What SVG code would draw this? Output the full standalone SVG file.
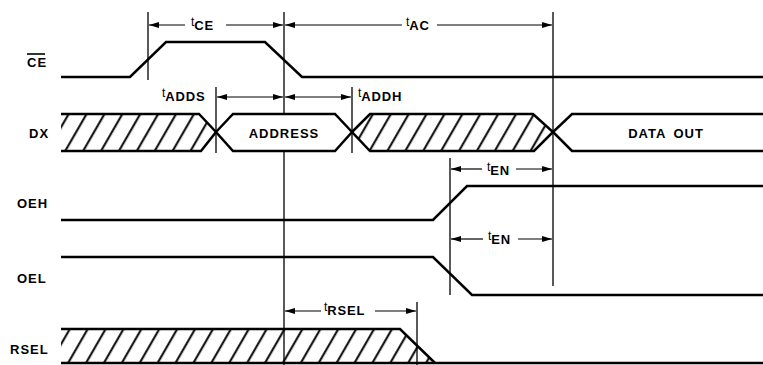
<svg xmlns="http://www.w3.org/2000/svg" width="763" height="365" viewBox="0 0 763 365">
<style>
.sig{fill:none;stroke:#000;stroke-width:2.5;stroke-linejoin:miter}
.vl{stroke:#000;stroke-width:1.3;fill:none}
.dim{stroke:#000;stroke-width:1.2;fill:none;marker-end:url(#ah)}
.dd{stroke:#000;stroke-width:1.2;fill:none;marker-start:url(#ah);marker-end:url(#ah)}
.lbl{font-family:"Liberation Sans",Arial,sans-serif;font-weight:bold;font-size:13px;letter-spacing:1px;fill:#000}
.t{font-family:"Liberation Sans",Arial,sans-serif;font-size:12px;fill:#000}
.sub{font-family:"Liberation Sans",Arial,sans-serif;font-weight:bold;font-size:13px;letter-spacing:0.8px;fill:#000}
.hatch{fill:url(#hp);stroke:none}
</style>
<defs>
<pattern id="hp" patternUnits="userSpaceOnUse" width="15.5" height="40" patternTransform="rotate(30)">
<line x1="8" y1="-5" x2="8" y2="45" stroke="#000" stroke-width="2"/>
</pattern>
<marker id="ah" viewBox="0 0 10 6" refX="10" refY="3" markerWidth="10" markerHeight="6" markerUnits="userSpaceOnUse" orient="auto-start-reverse">
<path d="M0,0 L10,3 L0,6 z" fill="#000"/>
</marker>
</defs>
<rect width="763" height="365" fill="#fff"/>

<g id="CE">
<text class="lbl" x="27" y="67">CE</text>
<line x1="27" y1="54" x2="45" y2="54" stroke="#000" stroke-width="1.6"/>
<polyline class="sig" points="61,77 130,77 166,42 265,42 302,77 763,77"/>
</g>

<g id="DX">
<text class="lbl" x="29" y="138">DX</text>
<polygon class="hatch" points="61,114 199,114 216,132 201,151 61,151"/>
<polyline class="sig" points="61,114 199,114 216,132 201,151 61,151"/>
<polygon class="sig" points="216,132 233,114 335,114 352,132 335,151 233,151"/>
<text class="lbl" x="284" y="137.5" text-anchor="middle">ADDRESS</text>
<polygon class="hatch" points="352,132 370,114 533,114 553,132 534,151 370,151"/>
<polygon class="sig" points="352,132 370,114 533,114 553,132 534,151 370,151"/>
<polyline class="sig" points="763,114 572,114 553,132 572,151 763,151"/>
<text class="lbl" x="666" y="137.5" text-anchor="middle" word-spacing="3">DATA OUT</text>
</g>

<g id="OEH">
<text class="lbl" x="17" y="208">OEH</text>
<polyline class="sig" points="61,220 433,220 467,186 763,186"/>
</g>

<g id="OEL">
<text class="lbl" x="17" y="283">OEL</text>
<polyline class="sig" points="61,257 433,257 472,295 763,295"/>
</g>

<g id="RSEL">
<text class="lbl" x="10" y="354">RSEL</text>
<polygon class="hatch" points="61,329 400,329 435,363 61,363"/>
<polyline class="sig" points="61,329 400,329 435,363"/>
<line class="sig" x1="61" y1="363" x2="763" y2="363"/>
</g>

<g id="connectors">
<line class="vl" x1="148" y1="12" x2="148" y2="80"/>
<line class="vl" x1="284" y1="12" x2="284" y2="113"/>
<line class="vl" x1="284" y1="152" x2="284" y2="365"/>
<line class="vl" x1="553" y1="12" x2="553" y2="286"/>
<line class="vl" x1="216" y1="87" x2="216" y2="153"/>
<line class="vl" x1="352" y1="87" x2="352" y2="153"/>
<line class="vl" x1="450" y1="158" x2="450" y2="295"/>
<line class="vl" x1="417" y1="302" x2="417" y2="365"/>

<line class="dim" x1="185" y1="25" x2="149" y2="25"/>
<line class="dim" x1="226" y1="25" x2="283" y2="25"/>
<text x="191" y="26"><tspan class="t">t</tspan><tspan class="sub" dy="4">CE</tspan></text>

<line class="dim" x1="402" y1="25" x2="285" y2="25"/>
<line class="dim" x1="437" y1="25" x2="552" y2="25"/>
<text x="406" y="26"><tspan class="t">t</tspan><tspan class="sub" dy="4">AC</tspan></text>

<line class="dd" x1="217" y1="97" x2="283" y2="97"/>
<line class="dd" x1="285" y1="97" x2="351" y2="97"/>
<text x="162" y="97"><tspan class="t">t</tspan><tspan class="sub" dy="4">ADDS</tspan></text>
<text x="358" y="97"><tspan class="t">t</tspan><tspan class="sub" dy="4">ADDH</tspan></text>

<line class="dim" x1="482" y1="169" x2="451" y2="169"/>
<line class="dim" x1="516" y1="169" x2="552" y2="169"/>
<text x="487" y="171"><tspan class="t">t</tspan><tspan class="sub" dy="4">EN</tspan></text>

<line class="dim" x1="483" y1="239" x2="451" y2="239"/>
<line class="dim" x1="518" y1="239" x2="552" y2="239"/>
<text x="488" y="240"><tspan class="t">t</tspan><tspan class="sub" dy="4">EN</tspan></text>

<line class="dim" x1="321" y1="311" x2="285" y2="311"/>
<line class="dim" x1="375" y1="311" x2="416" y2="311"/>
<text x="324" y="311"><tspan class="t">t</tspan><tspan class="sub" dy="4">RSEL</tspan></text>
</g>
</svg>
